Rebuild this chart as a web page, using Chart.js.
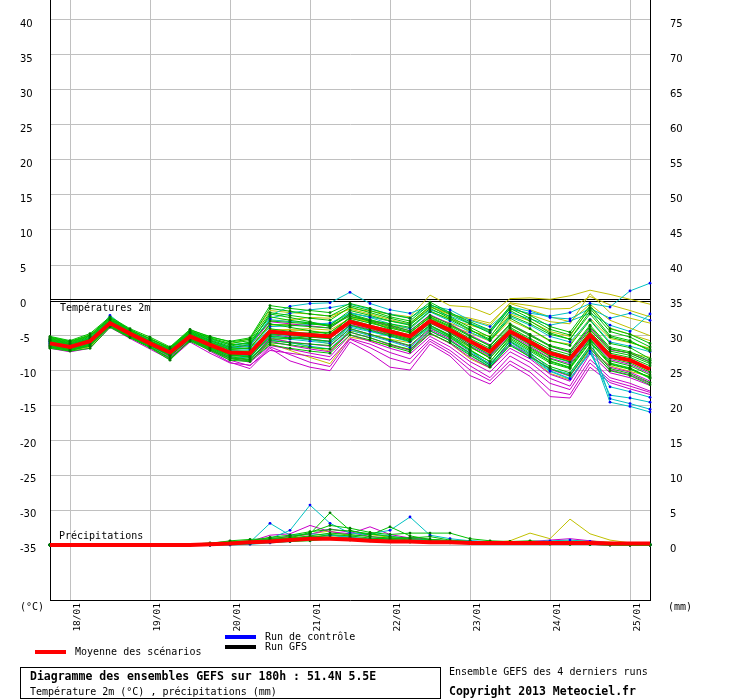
<!DOCTYPE html>
<html lang="fr">
<head>
<meta charset="UTF-8">
<title>Diagramme des ensembles GEFS</title>
<script src="https://cdn.jsdelivr.net/npm/chart.js"></script>
<style>
    body { margin: 0; background: #fff; }
    canvas { display: block; }
</style>
</head>
<body>
<canvas id="gefs" width="740" height="700"></canvas>
<script>
// échéances toutes les 6h : 17/01 18h -> 25/01 06h (180h)
const times = ['17/01 18h',
    '18/01 00h','18/01 06h','18/01 12h','18/01 18h',
    '19/01 00h','19/01 06h','19/01 12h','19/01 18h',
    '20/01 00h','20/01 06h','20/01 12h','20/01 18h',
    '21/01 00h','21/01 06h','21/01 12h','21/01 18h',
    '22/01 00h','22/01 06h','22/01 12h','22/01 18h',
    '23/01 00h','23/01 06h','23/01 12h','23/01 18h',
    '24/01 00h','24/01 06h','24/01 12h','24/01 18h',
    '25/01 00h','25/01 06h'];

const tempTicks = [-35, -30, -25, -20, -15, -10, -5, 0, 5, 10, 15, 20, 25, 30, 35, 40];
const rainTicks = [0, 5, 10, 15, 20, 25, 30, 35, 40, 45, 50, 55, 60, 65, 70, 75];

// température 2m (°C)
const tempMean = [-6.2,-6.7,-5.9,-3.3,-4.8,-6.2,-7.5,-5.2,-6.4,-7.5,-7.6,-4.5,-4.8,-5.0,-5.2,-3.1,-3.8,-4.5,-5.2,-3.0,-4.3,-5.9,-7.4,-4.5,-6.0,-7.6,-8.4,-5.0,-8.0,-8.6,-9.9];

const tempGreen = [
    [-5.6,-6.2,-5.3,-2.8,-4.4,-5.8,-7.0,-4.6,-5.7,-6.6,-6.0,-2.4,-2.9,-3.3,-3.6,-1.5,-2.2,-3.0,-3.6,-1.2,-2.6,-4.2,-5.8,-2.6,-4.1,-5.8,-6.5,-2.9,-6.2,-6.8,-8.4],
    [-6.8,-7.2,-6.6,-3.8,-5.3,-6.7,-8.3,-5.9,-7.2,-8.6,-8.8,-6.1,-6.4,-6.8,-7.0,-4.6,-5.4,-6.3,-7.1,-4.4,-5.8,-7.6,-9.3,-5.9,-7.7,-9.5,-10.4,-6.5,-9.8,-10.5,-11.8],
    [-5.2,-5.8,-4.8,-2.4,-4.1,-5.3,-6.7,-4.2,-5.3,-5.9,-5.4,-0.8,-1.2,-1.5,-1.8,-0.5,-1.2,-2.1,-2.6,-0.3,-1.8,-3.1,-4.3,-0.9,-2.2,-3.8,-4.6,-0.8,-4.1,-4.9,-6.2],
    [-6.4,-6.9,-6.2,-3.5,-5.0,-6.4,-7.8,-5.4,-6.8,-7.9,-8.1,-5.2,-5.4,-5.6,-5.9,-3.6,-4.3,-5.1,-5.9,-3.6,-5.0,-6.7,-8.3,-5.2,-6.8,-8.4,-9.3,-5.7,-8.7,-9.4,-10.7],
    [-5.8,-6.4,-5.6,-3.0,-4.6,-5.9,-7.2,-4.8,-6.0,-7.0,-6.9,-3.4,-3.9,-4.4,-4.9,-2.9,-3.9,-4.9,-5.8,-3.6,-5.2,-7.1,-8.8,-5.6,-7.3,-9.0,-9.8,-6.1,-9.2,-9.9,-11.0],
    [-6.9,-7.3,-6.9,-3.9,-5.4,-6.8,-8.6,-5.7,-7.0,-8.3,-8.5,-5.6,-5.5,-5.2,-5.0,-2.4,-2.9,-3.4,-3.9,-1.6,-2.8,-4.3,-5.6,-2.2,-3.4,-4.9,-5.6,-2.0,-5.3,-6.0,-7.1],
    [-6.1,-6.6,-5.8,-3.2,-4.7,-6.1,-7.4,-5.1,-6.3,-7.3,-7.3,-4.1,-4.5,-4.8,-5.0,-2.8,-3.6,-4.3,-5.0,-2.7,-4.1,-5.7,-7.1,-4.1,-5.7,-7.3,-8.1,-4.5,-7.6,-8.2,-9.4],
    [-5.4,-6.0,-5.1,-2.6,-4.3,-5.5,-6.9,-4.4,-5.4,-6.2,-5.8,-1.8,-2.2,-2.6,-2.9,-1.0,-1.8,-2.6,-3.3,-0.9,-2.4,-3.9,-5.3,-1.5,-3.0,-4.7,-5.6,-1.6,-5.1,-5.8,-7.3],
    [-6.6,-7.1,-6.4,-3.6,-5.2,-6.5,-8.0,-5.6,-6.9,-8.1,-8.5,-5.8,-6.1,-6.3,-6.5,-4.1,-4.9,-5.7,-6.5,-4.0,-5.4,-7.2,-8.8,-5.4,-7.1,-8.8,-9.7,-5.9,-9.1,-9.8,-11.2],
    [-5.9,-6.5,-5.7,-3.1,-4.6,-6.0,-7.3,-4.9,-6.1,-7.1,-6.8,-3.5,-3.6,-3.8,-4.0,-2.0,-2.8,-3.6,-4.4,-2.2,-3.5,-5.1,-6.6,-3.6,-5.1,-6.6,-7.4,-3.8,-7.0,-7.6,-8.9],
    [-5.3,-5.9,-5.0,-2.5,-4.2,-5.6,-6.9,-4.5,-5.5,-6.4,-6.2,-3.0,-3.2,-3.4,-3.7,-2.3,-3.0,-3.8,-4.6,-2.5,-3.9,-5.5,-6.9,-3.9,-5.5,-7.0,-7.8,-4.2,-7.3,-7.9,-9.1],
    [-6.7,-7.2,-6.5,-3.7,-5.3,-6.7,-8.4,-5.8,-7.1,-8.4,-8.7,-6.4,-6.9,-7.3,-7.6,-5.0,-5.7,-6.6,-7.4,-4.8,-6.1,-7.9,-9.6,-6.5,-8.1,-9.8,-10.8,-6.9,-10.1,-10.8,-12.1],
    [-5.5,-6.1,-5.2,-2.7,-4.3,-5.6,-6.8,-4.3,-5.2,-6.0,-5.6,-1.2,-1.6,-2.0,-2.3,-0.8,-1.5,-2.4,-3.0,-0.6,-2.0,-3.4,-4.7,-1.2,-2.6,-4.2,-5.0,-1.2,-4.5,-5.3,-6.7],
    [-6.3,-6.8,-6.1,-3.4,-4.9,-6.3,-7.7,-5.3,-6.6,-7.7,-7.9,-4.8,-5.0,-5.3,-5.5,-3.3,-4.0,-4.8,-5.6,-3.3,-4.6,-6.3,-7.8,-4.8,-6.4,-8.0,-8.8,-5.2,-8.3,-9.0,-10.3],
    [-5.7,-6.3,-5.5,-2.9,-4.5,-5.9,-7.1,-4.7,-5.8,-6.8,-6.4,-2.0,-2.5,-3.1,-3.8,-2.0,-3.1,-4.2,-5.3,-3.0,-4.7,-6.6,-8.3,-5.1,-6.9,-8.7,-9.6,-5.5,-9.0,-9.7,-11.1],
    [-6.5,-7.0,-6.3,-3.5,-5.1,-6.5,-7.9,-5.5,-6.7,-7.8,-8.2,-5.0,-4.9,-4.7,-4.6,-2.6,-3.3,-4.0,-4.7,-2.4,-3.7,-5.2,-6.5,-3.4,-4.9,-6.5,-7.2,-3.6,-6.8,-7.4,-8.6]
];

const tempCyan = [
    [-5.9,-6.5,-5.6,-2.2,-4.4,-5.8,-7.1,-4.6,-5.6,-6.4,-6.1,-2.2,-0.9,-0.5,-0.4,1.1,-0.5,-1.4,-1.9,-0.8,-1.4,-2.9,-3.8,-1.3,-1.9,-2.3,-1.8,-0.5,-1.0,1.3,2.4],
    [-6.3,-6.9,-6.2,-3.5,-5.1,-6.4,-7.8,-5.4,-6.7,-7.8,-8.0,-5.3,-5.6,-5.9,-6.2,-3.9,-4.5,-5.2,-5.9,-3.7,-5.0,-7.1,-9.4,-5.8,-7.5,-9.8,-10.6,-6.7,-14.6,-15.2,-16.0],
    [-6.1,-6.7,-6.0,-3.4,-4.9,-6.2,-7.6,-5.2,-6.5,-7.6,-7.8,-4.8,-5.1,-5.3,-5.5,-3.3,-4.0,-4.7,-5.4,-3.1,-4.5,-6.3,-7.9,-4.7,-6.3,-8.0,-8.9,-5.3,-14.1,-14.8,-15.6],
    [-5.6,-6.3,-5.4,-2.9,-4.5,-5.8,-7.2,-4.7,-5.8,-6.7,-6.3,-2.8,-3.1,-3.2,-3.5,-1.8,-2.5,-3.4,-4.1,-1.7,-3.0,-4.6,-5.8,-2.4,-3.6,-5.2,-6.0,-2.8,-6.0,-6.6,-7.4],
    [-6.5,-7.0,-6.4,-3.6,-5.2,-6.6,-8.0,-5.5,-6.8,-8.1,-8.3,-5.7,-6.1,-6.6,-7.0,-4.3,-5.1,-5.9,-6.8,-4.4,-5.8,-7.8,-9.5,-6.3,-8.2,-10.2,-11.3,-7.3,-13.6,-14.0,-14.6],
    [-6.0,-6.6,-5.8,-3.1,-4.7,-6.0,-7.4,-5.0,-6.2,-7.2,-7.1,-3.8,-3.7,-3.5,-3.3,-1.9,-2.4,-3.0,-3.5,-1.4,-2.3,-3.4,-4.3,-1.8,-2.7,-3.6,-3.0,-1.9,-3.6,-4.5,-2.0],
    [-6.2,-6.8,-6.1,-3.3,-4.9,-6.3,-7.7,-5.3,-6.6,-7.7,-7.9,-5.1,-5.4,-5.7,-6.0,-3.7,-4.4,-5.2,-6.0,-3.9,-5.3,-7.4,-9.1,-6.0,-7.9,-10.1,-11.2,-7.6,-12.4,-13.1,-13.9],
    [-5.8,-6.4,-5.5,-2.8,-4.5,-5.9,-7.2,-4.7,-5.9,-6.9,-6.6,-2.6,-1.9,-1.4,-1.1,-0.6,-1.3,-2.0,-2.6,-0.7,-1.8,-3.3,-4.6,-1.0,-1.6,-2.5,-2.7,-1.2,-2.6,-1.9,-2.9]
];

const tempMagenta = [
    [-6.5,-7.0,-6.3,-3.6,-5.2,-6.6,-8.0,-5.6,-7.3,-8.9,-9.8,-6.9,-8.7,-9.6,-10.1,-6.0,-7.6,-9.6,-10.0,-6.3,-8.0,-10.8,-12.0,-9.2,-10.9,-13.8,-14.0,-9.6,-11.8,-12.7,-13.5],
    [-6.6,-7.1,-6.5,-3.7,-5.3,-6.8,-8.2,-5.7,-7.0,-8.3,-8.9,-6.5,-7.0,-7.6,-8.1,-5.0,-5.9,-6.9,-7.7,-5.2,-6.7,-8.8,-10.3,-7.4,-8.9,-11.2,-12.3,-7.7,-10.4,-11.1,-12.2],
    [-6.3,-6.8,-6.0,-3.3,-4.9,-6.3,-7.6,-5.3,-6.6,-7.8,-7.8,-4.9,-5.3,-5.6,-5.9,-3.5,-4.2,-5.0,-5.7,-3.3,-4.7,-6.5,-8.0,-5.0,-6.6,-8.3,-9.1,-5.5,-8.5,-9.2,-10.5],
    [-5.5,-6.2,-5.4,-2.9,-4.5,-5.8,-7.1,-4.7,-5.9,-6.8,-6.5,-3.1,-3.4,-3.7,-4.0,-2.1,-2.9,-3.7,-4.4,-2.1,-3.4,-5.0,-6.4,-3.5,-5.0,-6.6,-7.5,-4.0,-7.1,-7.6,-8.8],
    [-6.9,-7.4,-6.9,-3.9,-5.5,-7.0,-8.5,-6.0,-7.6,-9.0,-9.3,-7.2,-7.6,-8.0,-8.6,-5.5,-6.3,-7.5,-8.4,-5.6,-7.2,-9.4,-11.1,-8.0,-9.6,-11.9,-12.8,-8.5,-11.1,-11.9,-13.0],
    [-6.0,-6.6,-5.8,-3.2,-4.8,-6.2,-7.5,-5.1,-6.5,-7.7,-8.0,-5.5,-6.0,-6.3,-6.6,-4.1,-4.9,-5.8,-6.6,-4.2,-5.6,-7.6,-9.1,-6.3,-7.9,-9.9,-10.9,-6.8,-9.6,-10.3,-11.6],
    [-6.4,-6.9,-6.2,-3.5,-5.1,-6.5,-7.9,-5.5,-7.1,-8.6,-9.4,-6.7,-7.8,-8.9,-9.5,-5.6,-6.8,-8.3,-9.1,-5.9,-7.6,-10.0,-11.5,-8.7,-10.3,-12.9,-13.5,-9.0,-11.5,-12.3,-13.2],
    [-6.2,-6.7,-5.9,-3.3,-4.9,-6.3,-7.7,-5.3,-6.8,-8.2,-8.6,-5.9,-6.5,-7.0,-7.4,-4.6,-5.4,-6.4,-7.2,-4.7,-6.2,-8.2,-9.7,-6.9,-8.4,-10.6,-11.6,-7.3,-10.0,-10.7,-11.9]
];

const tempYellow = [
    [-5.8,-6.5,-5.6,-3.1,-4.6,-5.9,-7.1,-4.8,-6.0,-6.9,-6.6,-3.0,-2.8,-2.5,-2.6,-1.2,-1.6,-2.0,-2.4,0.7,-0.8,-1.0,-2.1,0.2,0.3,0.1,0.6,1.4,0.8,0.1,-0.6],
    [-6.0,-6.6,-5.8,-3.2,-4.7,-6.1,-7.3,-5.0,-6.2,-7.4,-7.3,-4.2,-4.3,-4.4,-4.7,-2.5,-3.1,-3.6,-4.1,-1.6,-2.7,-3.6,-4.4,-1.1,-2.1,-3.1,-3.4,0.9,-1.8,-2.6,-3.3],
    [-6.7,-7.2,-6.7,-3.7,-5.2,-6.6,-8.1,-5.6,-6.8,-8.0,-8.3,-6.2,-7.2,-8.2,-9.1,-5.3,-5.8,-6.5,-7.0,-4.8,-6.2,-8.4,-9.7,-6.3,-8.1,-10.5,-11.4,-7.0,-9.4,-10.2,-10.9],
    [-5.3,-6.0,-5.0,-2.6,-4.3,-5.5,-6.9,-4.4,-5.5,-6.3,-5.5,-1.5,-1.8,-2.0,-2.3,-1.3,-2.0,-2.8,-3.5,-1.0,-2.1,-2.6,-3.3,-0.5,-1.4,-2.4,-3.1,-0.6,-2.9,-4.0,-5.1],
    [-6.2,-6.8,-6.1,-3.4,-4.9,-6.3,-7.6,-5.3,-6.5,-7.6,-7.7,-4.7,-5.1,-5.6,-6.3,-3.6,-4.1,-4.9,-5.5,-2.7,-3.7,-4.7,-5.9,-2.9,-4.2,-5.9,-6.3,-2.6,-5.5,-6.1,-6.9],
    [-5.7,-6.3,-5.5,-3.0,-4.6,-5.9,-7.2,-4.9,-6.2,-7.3,-7.4,-4.4,-4.2,-4.1,-4.3,-2.6,-3.2,-3.9,-4.7,-2.3,-3.3,-4.4,-5.2,-2.0,-3.0,-4.5,-5.2,-1.0,-4.0,-4.9,-5.8],
    [-5.9,-6.4,-5.7,-3.1,-4.7,-6.0,-7.3,-4.9,-6.0,-7.0,-6.9,-3.6,-3.5,-3.4,-3.6,-1.8,-2.4,-3.0,-3.4,-0.9,-2.0,-2.8,-3.6,-0.4,-0.8,-1.3,-1.2,0.5,-0.7,-1.5,-2.4],
    [-6.4,-6.9,-6.4,-3.5,-5.0,-6.4,-7.8,-5.4,-6.6,-7.8,-8.0,-5.4,-6.0,-6.7,-7.3,-4.4,-4.9,-5.6,-6.1,-3.8,-5.1,-6.8,-8.1,-4.6,-6.3,-8.1,-8.7,-4.3,-7.0,-7.6,-8.2]
];

// précipitations (mm)
const rainMean = [0,0,0,0,0,0,0,0,0.1,0.2,0.4,0.5,0.7,0.9,0.9,0.8,0.6,0.5,0.5,0.4,0.4,0.3,0.3,0.3,0.3,0.3,0.3,0.3,0.2,0.2,0.2];

const rainGreen = [
    [0,0,0,0,0,0,0,0,0.2,0.6,0.8,0.9,1.2,1.6,4.6,2.1,1.4,2.6,1.3,0.8,0.6,0.4,0.3,0.4,0.5,0.3,0.2,0.2,0.1,0.1,0.1],
    [0,0,0,0,0,0,0,0.1,0.3,0.5,0.6,1.1,1.4,1.9,2.2,2.0,1.6,1.2,1.0,1.2,0.7,0.5,0.4,0.3,0.2,0.2,0.1,0.1,0,0,0],
    [0,0,0,0,0,0,0,0,0.1,0.2,0.4,0.6,0.8,1.0,1.5,1.3,1.0,0.8,0.6,0.5,0.4,0.3,0.3,0.2,0.4,0.3,0.2,0.1,0.1,0,0],
    [0,0,0,0,0,0,0,0,0,0.1,0.2,0.4,0.5,0.6,0.9,0.7,0.6,0.5,0.4,0.4,0.3,0.3,0.2,0.2,0.2,0.1,0.1,0.1,0,0,0],
    [0,0,0,0,0,0,0,0,0.1,0.3,0.5,0.7,1.0,1.8,2.8,2.4,1.8,1.5,1.7,1.7,1.7,0.9,0.6,0.5,0.4,0.3,0.3,0.2,0.2,0.1,0.1],
    [0,0,0,0,0,0,0,0,0.1,0.4,0.6,0.8,1.0,1.3,1.7,1.5,1.2,1.0,0.9,0.8,0.6,0.5,0.4,0.3,0.3,0.2,0.2,0.1,0.1,0,0],
    [0,0,0,0,0,0,0,0,0,0.2,0.3,0.6,0.9,1.2,1.1,1.0,0.8,1.0,0.7,0.6,0.5,0.4,0.3,0.5,0.6,0.4,0.3,0.2,0.1,0.1,0]
];

const rainCyan = [
    [0,0,0,0,0,0,0,0,0,0.1,0.4,3.1,1.4,1.6,1.4,1.1,0.9,0.8,0.7,0.5,0.4,0.3,0.3,0.2,0.2,0.3,0.2,0.1,0,0,0],
    [0,0,0,0,0,0,0,0,0,0.2,0.5,0.9,2.1,5.7,3.1,1.7,1.6,1.3,0.8,0.6,0.5,0.4,0.4,0.3,0.3,0.3,0.2,0.2,0.1,0.1,0],
    [0,0,0,0,0,0,0,0,0,0.1,0.2,0.5,0.8,1.1,1.4,1.2,1.6,2.1,4.0,1.4,0.9,0.6,0.4,0.3,0.3,0.4,0.3,0.2,0.1,0,0],
    [0,0,0,0,0,0,0,0,0,0,0.1,0.3,0.5,0.8,0.9,0.8,0.6,0.5,0.9,0.7,0.6,0.6,0.5,0.4,0.5,0.6,0.7,0.5,0.2,0.1,0.1]
];

const rainMagenta = [
    [0,0,0,0,0,0,0,0,0.1,0.3,0.5,1.4,1.6,2.8,1.9,1.6,2.6,1.5,1.0,0.7,0.5,0.3,0.2,0.3,0.5,0.7,0.9,0.6,0.3,0.2,0.1],
    [0,0,0,0,0,0,0,0,0,0.2,0.3,0.8,1.3,1.5,2.3,1.8,1.2,0.9,1.1,0.8,0.6,0.4,0.3,0.2,0.2,0.3,0.4,0.4,0.2,0.1,0],
    [0,0,0,0,0,0,0,0,0,0.1,0.2,0.5,0.7,1.2,1.1,0.9,0.7,0.6,0.5,0.5,0.4,0.3,0.2,0.2,0.1,0.1,0.1,0.1,0,0,0]
];

const rainYellow = [
    [0,0,0,0,0,0,0,0,0,0.1,0.3,1.1,0.9,1.2,1.4,1.0,0.9,0.7,0.6,0.4,0.4,0.3,0.3,0.6,1.7,0.9,3.7,1.6,0.7,0.3,0.2],
    [0,0,0,0,0,0,0,0,0.1,0.2,0.4,0.7,1.1,1.6,2.0,1.3,1.5,1.1,0.8,0.6,0.5,0.4,0.3,0.3,0.4,0.5,0.6,0.6,0.4,0.2,0.1],
    [0,0,0,0,0,0,0,0,0,0.1,0.2,0.4,0.6,0.9,1.2,0.8,0.6,0.5,0.4,0.4,0.3,0.2,0.2,0.2,0.3,0.2,0.2,0.1,0.1,0,0]
];

const GREEN = '#00c000', CYAN = '#00c0c0', MAGENTA = '#c800c8', YELLOW = '#c0c000';
const MONO = '"DejaVu Sans Mono", monospace';

function member(values, color, dot, axis) {
    return {
        data: values,
        yAxisID: axis,
        borderColor: color,
        borderWidth: 1,
        pointRadius: dot ? 1.4 : 0,
        pointBackgroundColor: dot || color,
        pointBorderWidth: 0,
        tension: 0
    };
}

function mean(values, axis) {
    return { data: values, yAxisID: axis, borderColor: '#ff0000', borderWidth: 4, pointRadius: 0, tension: 0 };
}

// le premier dataset est dessiné au-dessus
const datasets = [
    mean(tempMean, 'y'),
    mean(rainMean, 'y2'),
    ...tempGreen.map(v => member(v, GREEN, '#007800', 'y')),
    ...rainGreen.map(v => member(v, GREEN, '#007800', 'y2')),
    ...tempCyan.map(v => member(v, CYAN, '#0000ff', 'y')),
    ...rainCyan.map(v => member(v, CYAN, '#0000ff', 'y2')),
    ...tempMagenta.map(v => member(v, MAGENTA, null, 'y')),
    ...rainMagenta.map(v => member(v, MAGENTA, null, 'y2')),
    ...tempYellow.map(v => member(v, YELLOW, null, 'y')),
    ...rainYellow.map(v => member(v, YELLOW, null, 'y2'))
];

const decor = {
    id: 'decor',
    beforeDatasetsDraw(chart) {
        const { ctx, chartArea: a, scales } = chart;
        const y0 = scales.y.getPixelForValue(0);
        ctx.save();
        ctx.fillStyle = '#000';
        ctx.fillRect(a.left, y0 - 1, a.right - a.left, 1);
        ctx.fillRect(a.left, y0 + 1, a.right - a.left, 1);
        ctx.restore();
    },
    afterDraw(chart) {
        const ctx = chart.ctx;
        ctx.save();
        ctx.fillStyle = '#000';
        ctx.textBaseline = 'middle';
        ctx.textAlign = 'left';
        ctx.font = '10px ' + MONO;
        ctx.fillText('Températures 2m', 60, 308);
        ctx.fillText('Précipitations', 59, 536);
        ctx.fillText('(°C)', 20, 607);
        ctx.fillText('(mm)', 668, 607);

        // légende
        ctx.fillStyle = '#0000ff';
        ctx.fillRect(225, 635, 31, 4);
        ctx.fillStyle = '#000';
        ctx.fillRect(225, 645, 31, 4);
        ctx.fillStyle = '#ff0000';
        ctx.fillRect(35, 650, 31, 4);
        ctx.fillStyle = '#000';
        ctx.fillText('Run de contrôle', 265, 637);
        ctx.fillText('Run GFS', 265, 647);
        ctx.fillText('Moyenne des scénarios', 75, 652);

        // cartouche
        ctx.strokeStyle = '#000';
        ctx.lineWidth = 1;
        ctx.strokeRect(20.5, 667.5, 420, 31);
        ctx.font = 'bold 11.5px ' + MONO;
        ctx.fillText('Diagramme des ensembles GEFS sur 180h : 51.4N 5.5E', 30, 677);
        ctx.fillText('Copyright 2013 Meteociel.fr', 449, 692);
        ctx.font = '10px ' + MONO;
        ctx.fillText('Température 2m (°C) , précipitations (mm)', 30, 692);
        ctx.fillText('Ensemble GEFS des 4 derniers runs', 449, 672);
        ctx.restore();
    }
};

const noPad = s => { s.paddingTop = 0; s.paddingBottom = 0; s.paddingLeft = 0; s.paddingRight = 0; };

new Chart(document.getElementById('gefs'), {
    type: 'line',
    data: { labels: times, datasets: datasets },
    plugins: [decor],
    options: {
        responsive: false,
        devicePixelRatio: 1,
        animation: false,
        events: [],
        layout: { autoPadding: false, padding: { left: 20, right: 0, top: 0, bottom: 0 } },
        plugins: { legend: { display: false }, tooltip: { enabled: false } },
        scales: {
            x: {
                type: 'category',
                grid: {
                    color: c => (times[c.index] || '').endsWith('00h') ? '#c0c0c0' : 'rgba(0,0,0,0)',
                    drawTicks: false
                },
                border: { color: '#000' },
                ticks: {
                    autoSkip: false,
                    minRotation: 90,
                    maxRotation: 90,
                    labelOffset: 7.5,
                    padding: 3,
                    color: '#000',
                    font: { family: MONO, size: 9.5 },
                    callback: (v, i) => times[i].endsWith('00h') ? times[i].slice(0, 5) : ''
                },
                afterFit: s => { s.height = 100; noPad(s); }
            },
            y: {
                position: 'left',
                min: -300 / 7,
                max: 300 / 7,
                afterBuildTicks: s => { s.ticks = tempTicks.map(v => ({ value: v })); },
                grid: {
                    color: c => (c.tick && c.tick.value === 0) ? 'rgba(0,0,0,0)' : '#c0c0c0',
                    drawTicks: false
                },
                border: { color: '#000' },
                ticks: {
                    crossAlign: 'far',
                    labelOffset: 4,
                    padding: 0,
                    color: '#000',
                    font: { family: '"DejaVu Sans", sans-serif', size: 10 }
                },
                afterFit: s => { s.width = 30; noPad(s); }
            },
            y2: {
                position: 'right',
                min: -55 / 7,
                max: 545 / 7,
                afterBuildTicks: s => { s.ticks = rainTicks.map(v => ({ value: v })); },
                grid: { display: false, drawTicks: false },
                border: { color: '#000' },
                ticks: {
                    crossAlign: 'near',
                    labelOffset: 4,
                    padding: 20,
                    color: '#000',
                    font: { family: '"DejaVu Sans", sans-serif', size: 10 }
                },
                afterFit: s => { s.width = 90; noPad(s); }
            }
        }
    }
});
</script>
</body>
</html>
